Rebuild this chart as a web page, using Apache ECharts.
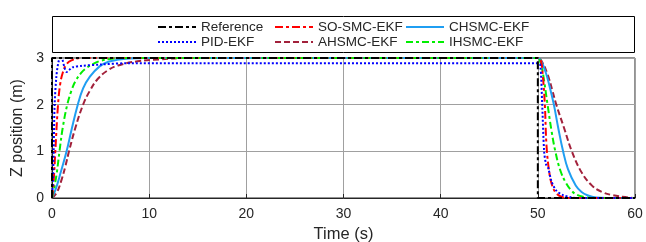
<!DOCTYPE html>
<html>
<head>
<meta charset="utf-8">
<script src="https://cdn.jsdelivr.net/npm/echarts@6/dist/echarts.min.js"></script>
<style>html,body{margin:0;padding:0;background:#fff;}#c{width:646px;height:242px;}</style>
</head>
<body>
<div id="c"></div>
<script>
// ---- data ----
const xTicks = [0, 10, 20, 30, 40, 50, 60];
const yTicks = [0, 1, 2, 3];

const refT = [0, 0, 50, 50, 60];
const refY = [0, 3, 3, 0, 0];

const soT = [0, 0.15, 0.34, 0.62, 0.85, 1.13, 1.5, 2.0, 3.0, 50.0, 50.3, 50.5, 50.72, 50.9, 51.2, 51.5, 51.9, 52.4, 53, 60];
const soY = [0, 0.3, 1.0, 2.0, 2.45, 2.7, 2.87, 2.95, 3.0, 3.0, 2.95, 2.65, 2.0, 1.1, 0.52, 0.25, 0.1, 0.03, 0, 0];

const chT = [0, 0.4, 0.9, 1.5, 2.0, 2.65, 3.2, 3.9, 4.9, 5.8, 6.7, 8, 9.5, 50, 50.3, 50.8, 51.2, 51.65, 52.1, 52.6, 53.1, 53.9, 54.5, 55.1, 56, 57, 60];
const chY = [0, 0.2, 0.55, 1.0, 1.45, 2.0, 2.35, 2.6, 2.82, 2.92, 2.96, 2.99, 3.0, 3.0, 2.95, 2.7, 2.4, 2.0, 1.5, 1.0, 0.62, 0.27, 0.13, 0.06, 0.01, 0, 0];

const pidT = [0, 0.1, 0.17, 0.27, 0.45, 0.65, 0.85, 1.05, 1.3, 1.5, 1.75, 2.1, 3, 5, 8, 50, 50.25, 50.45, 50.65, 50.85, 51.06, 51.4, 51.9, 52.6, 53.5, 54, 60];
const pidY = [0, 0.4, 1.0, 2.0, 2.6, 2.9, 3.0, 2.98, 2.78, 2.7, 2.74, 2.8, 2.83, 2.86, 2.89, 2.89, 2.85, 2.0, 1.0, 0.72, 0.65, 0.36, 0.16, 0.06, 0.01, 0, 0];

const ahT = [0, 0.5, 1.0, 1.4, 1.75, 2.4, 3.2, 3.9, 4.7, 5.7, 6.8, 8.8, 11, 14, 50, 50.4, 51, 51.5, 51.9, 52.7, 53.5, 54.5, 55.6, 56.6, 57.7, 59, 60];
const ahY = [0, 0.12, 0.4, 0.7, 1.0, 1.5, 2.0, 2.3, 2.55, 2.73, 2.84, 2.93, 2.97, 3.0, 3.0, 2.93, 2.65, 2.3, 2.0, 1.5, 1.0, 0.55, 0.26, 0.13, 0.06, 0.02, 0];

const ihT = [0, 0.3, 0.5, 0.77, 1.1, 1.57, 2.0, 2.4, 3.0, 3.5, 4.2, 5, 6, 7, 50, 50.2, 50.5, 51.0, 51.4, 51.8, 52.3, 52.9, 53.5, 54, 54.8, 55.5, 60];
const ihY = [0, 0.3, 0.55, 1.0, 1.5, 2.0, 2.3, 2.5, 2.68, 2.78, 2.87, 2.94, 2.98, 3.0, 3.0, 2.95, 2.7, 2.0, 1.45, 1.0, 0.6, 0.32, 0.15, 0.07, 0.02, 0, 0];

const names = ['Reference', 'SO-SMC-EKF', 'CHSMC-EKF', 'PID-EKF', 'AHSMC-EKF', 'IHSMC-EKF'];

// ---- chart ----
const pairs = (T, Y) => T.map((t, i) => [t, Y[i]]);
const FONT = 'Liberation Sans, Arial, sans-serif';
const TXT = '#262626';

function mk(name, T, Y, color, type, smooth, z) {
  return {
    name: name, type: 'line', data: pairs(T, Y), showSymbol: false, symbol: 'none',
    smooth: smooth, z: z,
    lineStyle: { color: color, width: 2, type: type, cap: 'butt' },
    itemStyle: { color: color },
    animation: false
  };
}

const series = [
  mk('AHSMC-EKF', ahT, ahY, '#a2213b', [6, 3], 0.4, 2),
  mk('CHSMC-EKF', chT, chY, '#1f9ef2', 'solid', 0.4, 3),
  mk('IHSMC-EKF', ihT, ihY, '#00ee00', [7, 3, 3, 3], 0.4, 4),
  mk('SO-SMC-EKF', soT, soY, '#ff0000', [8, 3, 3, 3], 0.4, 5),
  mk('PID-EKF', pidT, pidY, '#0000ff', [2, 2], 0.3, 6),
  mk('Reference', refT, refY, '#000000', [8, 3, 3, 3], false, 7)
];

const legendPos = {
  'Reference': [157, 20], 'SO-SMC-EKF': [274, 20], 'CHSMC-EKF': [405, 20],
  'PID-EKF': [157, 35], 'AHSMC-EKF': [274, 35], 'IHSMC-EKF': [405, 35]
};
const legends = names.map(n => ({
  data: [n], left: legendPos[n][0], top: legendPos[n][1], padding: 0,
  itemWidth: 38, itemHeight: 14, itemGap: 0, selectedMode: false,
  itemStyle: { opacity: 0 },
  textStyle: { fontFamily: FONT, fontSize: 13.5, color: TXT, padding: [0, 0, 0, 0] }
}));

const chart = echarts.init(document.getElementById('c'), null, { renderer: 'canvas' });
chart.setOption({
  animation: false,
  backgroundColor: '#fff',
  graphic: [{
    type: 'rect', left: 52, top: 16, shape: { width: 582, height: 36 },
    style: { fill: '#fff', stroke: '#000', lineWidth: 1 }, z: -1
  }],
  legend: legends,
  grid: { left: 52, right: 11, top: 58, bottom: 44, outerBoundsMode: 'none', containLabel: false, show: true, borderColor: '#262626', borderWidth: 1, backgroundColor: 'transparent' },
  xAxis: {
    type: 'value', min: xTicks[0], max: xTicks[xTicks.length - 1], interval: 10,
    name: 'Time (s)', nameLocation: 'middle', nameGap: 27,
    nameTextStyle: { fontFamily: FONT, fontSize: 16.5, color: TXT },
    axisLine: { show: true, lineStyle: { color: '#262626' } },
    axisTick: { show: true, inside: true, length: 4, lineStyle: { color: '#262626' } },
    axisLabel: { fontFamily: FONT, fontSize: 14, color: TXT, margin: 9 },
    splitLine: { show: true, lineStyle: { color: '#a0a0a0', width: 1 } }
  },
  yAxis: {
    type: 'value', min: yTicks[0], max: yTicks[yTicks.length - 1], interval: 1,
    name: 'Z position (m)', nameLocation: 'middle', nameGap: 20,
    nameTextStyle: { fontFamily: FONT, fontSize: 16, color: TXT },
    axisLine: { show: true, lineStyle: { color: '#262626' } },
    axisTick: { show: true, inside: true, length: 4, lineStyle: { color: '#262626' } },
    axisLabel: { fontFamily: FONT, fontSize: 14, color: TXT, margin: 8 },
    splitLine: { show: true, lineStyle: { color: '#a0a0a0', width: 1 } }
  },
  series: series
});
</script>
</body>
</html>
